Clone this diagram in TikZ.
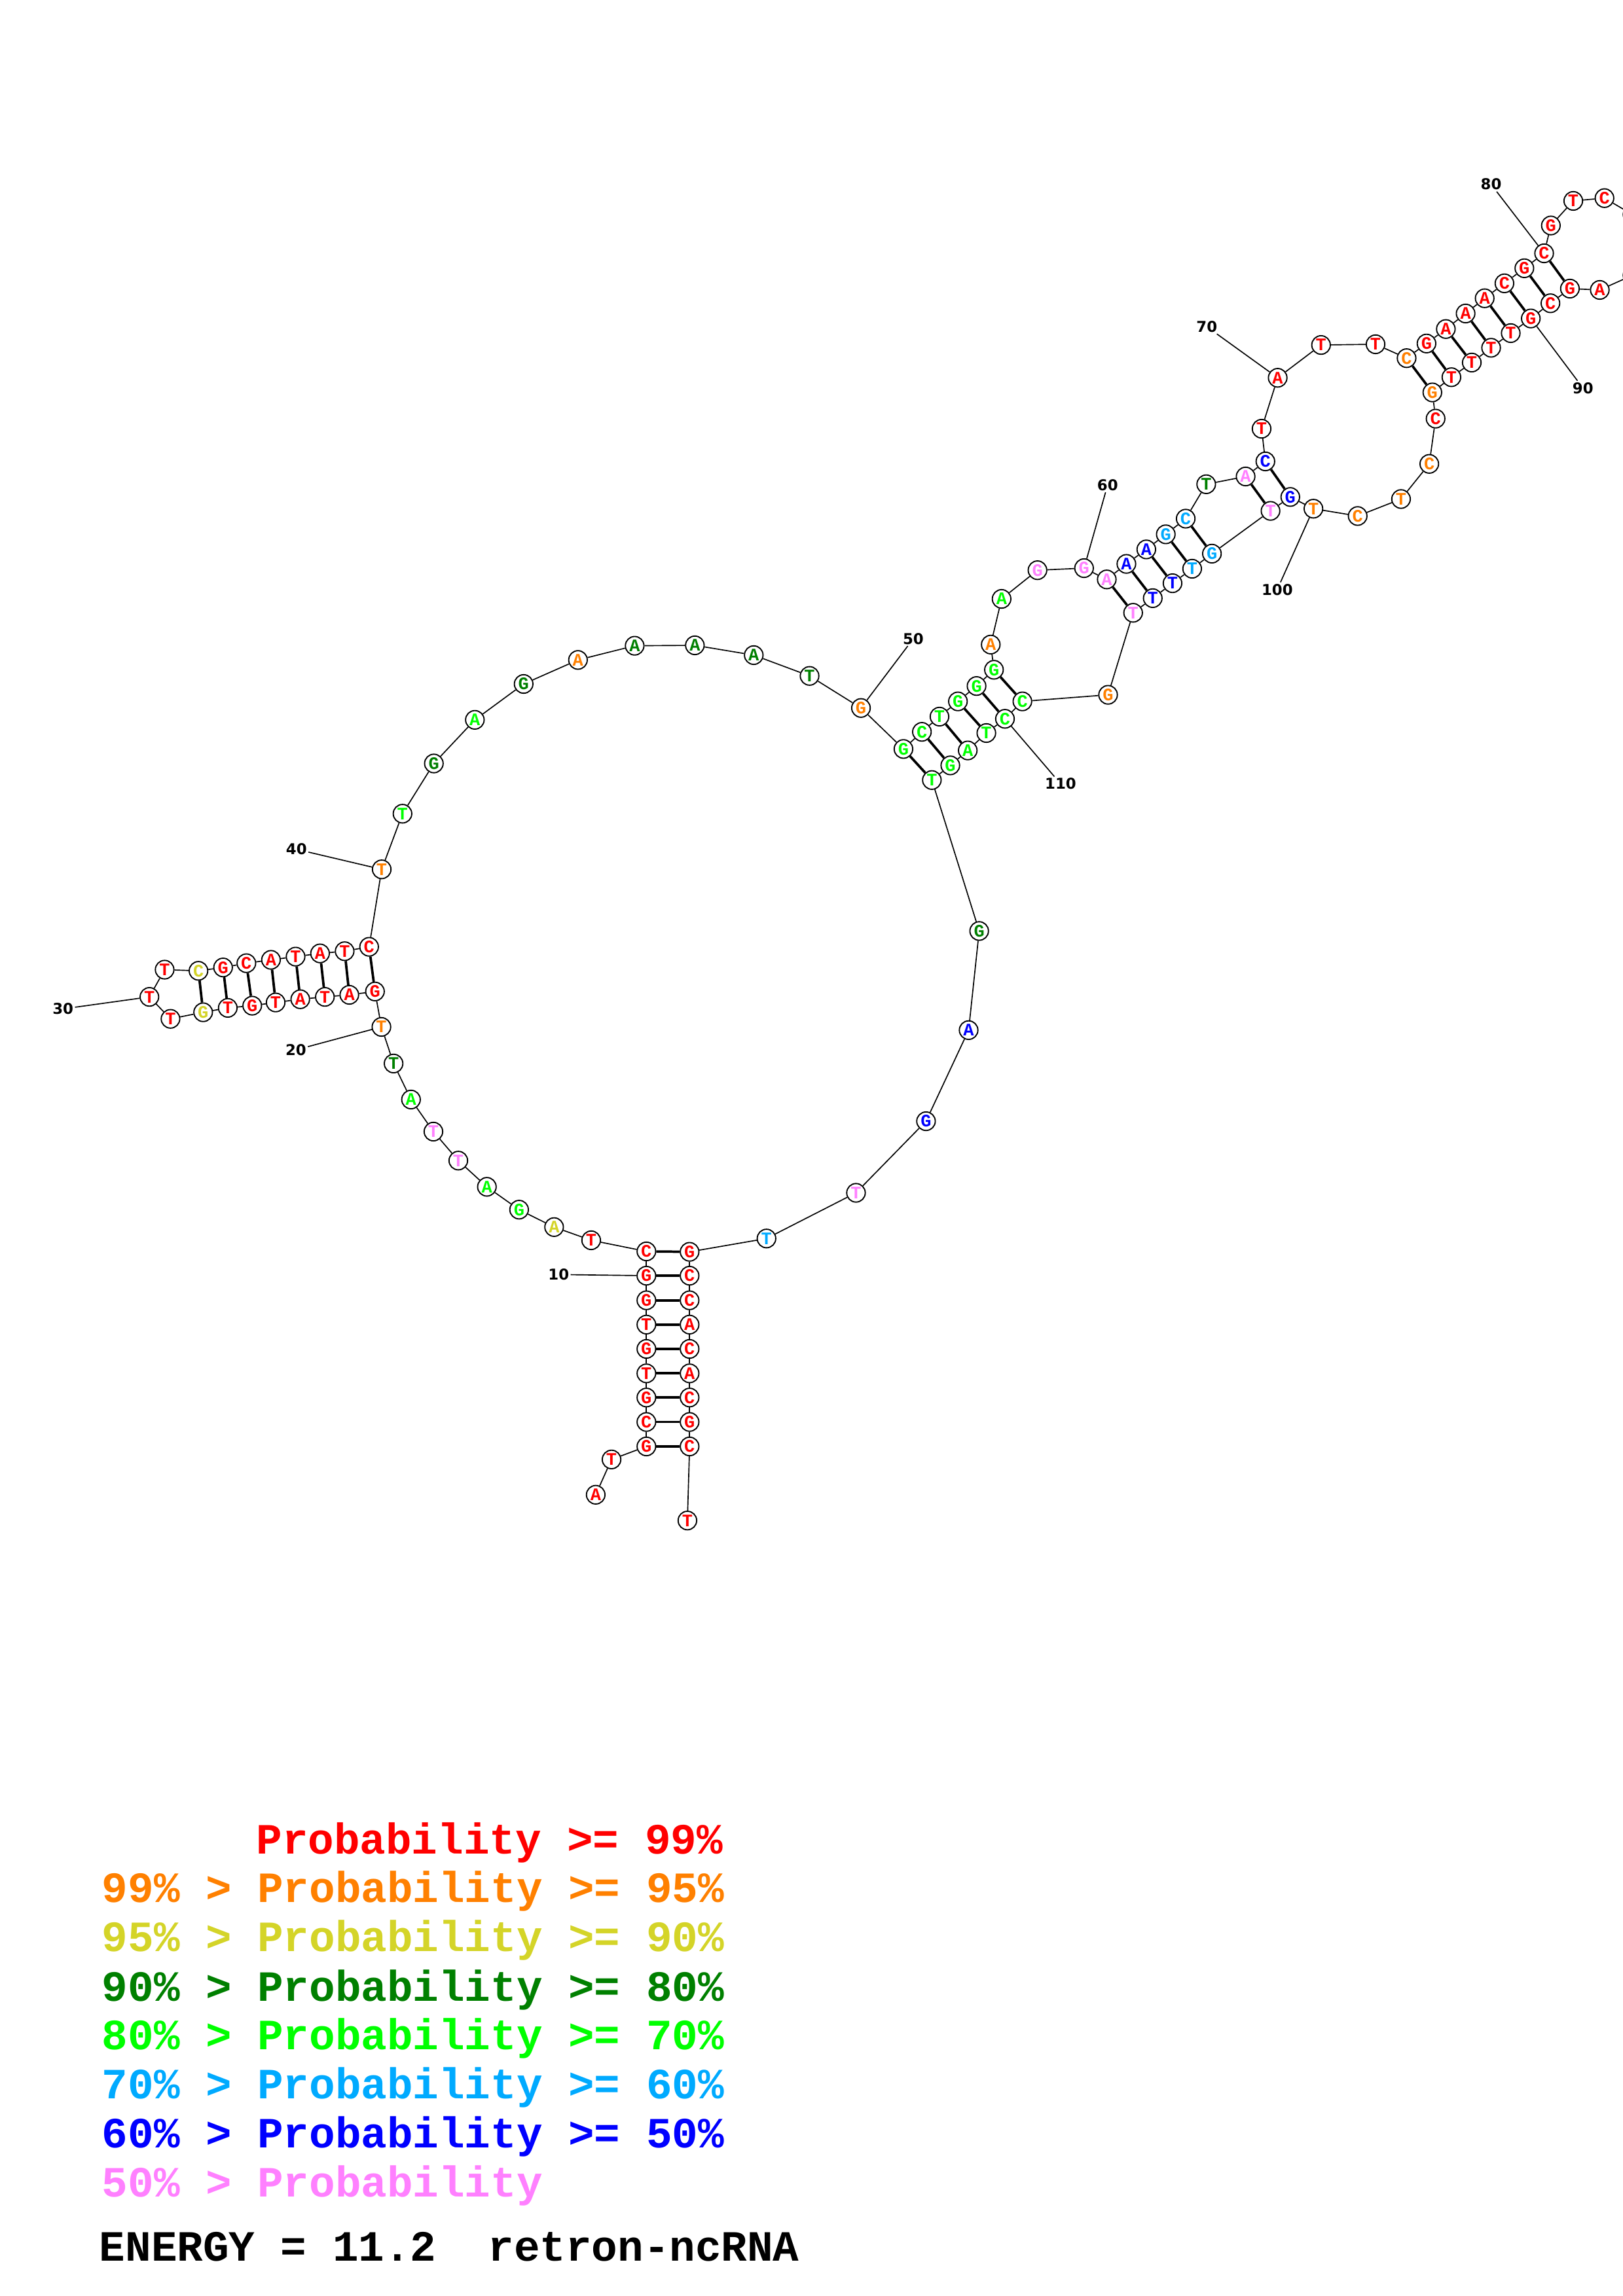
\documentclass[tikz,border=0pt]{standalone}
\usepackage{fontspec}
\newfontfamily\lmono{Liberation Mono}
\newfontfamily\dvs{DejaVu Sans}
\definecolor{cR}{RGB}{255,0,0}
\definecolor{cO}{RGB}{255,128,0}
\definecolor{cY}{RGB}{212,212,40}
\definecolor{cD}{RGB}{0,128,0}
\definecolor{cG}{RGB}{0,255,0}
\definecolor{cC}{RGB}{0,170,255}
\definecolor{cB}{RGB}{0,0,255}
\definecolor{cP}{RGB}{255,128,255}
\tikzset{
  nuc/.style={circle, draw=black, fill=white, minimum size=2.4mm, inner sep=0pt, line width=0.45pt, font=\lmono\bfseries\fontsize{6.5}{6.5}\selectfont},
  bb/.style={line width=0.4pt, black},
  bp/.style={line width=0.9pt, black},
  numlab/.style={inner sep=0.4pt, font=\dvs\bfseries\fontsize{5.5}{5.5}\selectfont},
  leg/.style={anchor=base west, inner sep=0pt, font=\lmono\bfseries\fontsize{15.9}{16}\selectfont}
}
\begin{document}
\begin{tikzpicture}[x=0.189531mm, y=-0.189531mm]
\useasboundingbox (0,0) rectangle (1108,1568);
\fill[white] (0,0) rectangle (1108,1568);
\clip (0,0) rectangle (1108,1568);
% nucleotides
\foreach \i/\l/\c/\x/\y in {
1/A/cR/406.7/1020.8, 2/T/cR/417.5/996.7, 3/G/cR/441.3/987.8, 4/C/cR/441.3/971.1,
5/G/cR/441.3/954.4, 6/T/cR/441.3/937.9, 7/G/cR/441.3/921.2, 8/T/cR/441.3/904.6,
9/G/cR/441.3/888.0, 10/G/cR/441.3/871.2, 11/C/cR/441.3/854.6, 12/T/cR/403.6/847.0,
13/A/cY/378.3/838.0, 14/G/cG/354.4/826.1, 15/A/cG/332.4/810.5, 16/T/cP/312.9/792.6,
17/T/cP/295.9/772.8, 18/A/cG/280.6/750.9, 19/T/cD/268.7/726.3, 20/T/cO/260.4/701.3,
21/G/cR/256.0/677.1, 22/A/cR/238.5/679.4, 23/T/cR/221.8/680.8, 24/A/cR/205.0/682.4,
25/T/cR/188.2/684.6, 26/G/cR/172.2/686.8, 27/T/cR/155.5/688.3, 28/G/cY/138.7/691.3,
29/T/cR/116.4/695.8, 30/T/cR/102.0/680.8, 31/T/cR/112.4/662.2, 32/C/cY/135.5/663.0,
33/G/cR/152.3/660.7, 34/C/cR/168.2/657.8, 35/A/cR/185.0/655.5, 36/T/cR/201.8/653.3,
37/A/cR/218.5/651.1, 38/T/cR/235.3/649.6, 39/C/cR/252.0/646.6, 40/T/cO/260.6/593.7,
41/T/cG/274.8/555.7, 42/G/cD/296.2/521.4, 43/A/cG/324.2/491.6, 44/G/cD/357.5/467.1,
45/A/cO/394.6/450.7, 46/A/cD/433.3/441.0, 47/A/cD/474.4/440.7, 48/A/cD/514.6/447.4,
49/T/cD/552.7/461.6, 50/G/cO/587.8/483.5, 51/G/cG/616.8/511.5, 52/C/cG/629.4/499.8,
53/T/cG/641.4/489.4, 54/G/cG/654.0/479.0, 55/G/cG/666.7/468.5, 56/G/cG/678.6/457.4,
57/A/cO/676.4/440.2, 58/A/cG/683.8/409.0, 59/G/cP/708.3/389.4, 60/G/cP/740.1/388.0,
61/A/cP/755.6/395.7, 62/A/cB/769.0/385.1, 63/A/cB/782.6/375.2, 64/G/cC/795.9/364.9,
65/C/cC/809.5/354.2, 66/T/cD/823.5/330.7, 67/A/cP/850.4/325.4, 68/C/cB/863.9/315.1,
69/T/cR/861.3/292.8, 70/A/cR/872.3/258.0, 71/T/cR/901.9/235.6, 72/T/cR/939.1/235.1,
73/C/cO/960.3/244.6, 74/G/cR/973.9/234.6, 75/A/cR/987.1/224.7, 76/A/cR/1000.6/214.1,
77/A/cR/1013.6/203.7, 78/C/cR/1027.1/193.5, 79/G/cR/1040.7/183.2, 80/C/cR/1054.2/173.0,
81/G/cR/1058.8/154.0, 82/T/cR/1074.1/137.2, 83/C/cR/1095.4/135.3,
84//cR/1114.5/146.5, 85//cR/1123/167, 86//cR/1114.5/188,
87/A/cR/1092.2/198.0, 88/G/cR/1071.8/197.1, 89/C/cR/1058.5/207.1, 90/G/cR/1045.1/217.5,
91/T/cR/1031.4/227.5, 92/T/cR/1018.0/237.5, 93/T/cR/1004.8/247.6, 94/T/cR/990.9/257.6,
95/G/cO/977.9/268.0, 96/C/cR/980.1/285.9, 97/C/cO/975.8/316.8, 98/T/cO/956.5/340.8,
99/C/cO/926.9/352.4, 100/T/cO/896.7/347.4, 101/G/cB/880.9/339.4, 102/T/cP/867.4/348.9,
103/G/cC/827.4/378.1, 104/T/cC/813.9/388.4, 105/T/cB/800.5/398.3, 106/T/cB/787.0/408.5,
107/T/cP/773.6/418.5, 108/G/cO/756.5/474.5, 109/C/cG/698.0/479.0, 110/C/cG/686.1/490.9,
111/T/cG/673.4/500.6, 112/A/cG/660.7/512.5, 113/G/cG/648.8/522.7, 114/T/cG/636.2/532.7,
115/G/cD/668.5/635.8, 116/A/cB/661.3/703.5, 117/G/cB/632.2/765.7, 118/T/cP/584.4/814.6,
119/T/cC/523.3/845.8, 120/G/cR/470.8/854.9, 121/C/cR/470.8/871.2, 122/C/cR/470.8/888.0,
123/A/cR/470.8/904.6, 124/C/cR/470.8/921.2, 125/A/cR/470.8/937.9, 126/C/cR/470.8/954.4,
127/G/cR/470.8/971.1, 128/C/cR/470.8/987.8, 129/T/cR/469.3/1038.4}
  \node[nuc, text=\c] (n\i) at (\x,\y) {\l};
% backbone
\foreach \i [evaluate=\i as \j using int(\i+1)] in {1,...,128}
  \draw[bb] (n\i) -- (n\j);
% base pairs
\foreach \a/\b in {3/128, 4/127, 5/126, 6/125, 7/124, 8/123, 9/122, 10/121, 11/120,
  21/39, 22/38, 23/37, 24/36, 25/35, 26/34, 27/33, 28/32,
  51/114, 52/113, 53/112, 54/111, 55/110, 56/109,
  61/107, 62/106, 63/105, 64/104, 65/103, 67/102, 68/101,
  73/95, 74/94, 75/93, 76/92, 77/91, 78/90, 79/89, 80/88}
  \draw[bp] (n\a) -- (n\b);
% position labels
\foreach \k/\x/\y in {10/381.4/870.4, 20/202.0/717.0, 30/43.0/689.0, 40/202.4/580.0,
  50/623.5/436.2, 60/756.2/331.2, 70/823.9/223.1, 80/1018.0/125.9, 90/1080.7/265.0,
  100/872.0/402.6, 110/724.1/535.3}
{
  \node[numlab] (lab\k) at (\x,\y) {\k};
  \draw[bb] (lab\k) -- (n\k);
}
% legend
\node[leg, text=cR] (l1) at (174.6,1266.0) {Probability >= 99\%};
\node[leg, text=cO] (l2) at (69.3,1299.3) {99\% > Probability >= 95\%};
\node[leg, text=cY] (l3) at (69.3,1332.8) {95\% > Probability >= 90\%};
\node[leg, text=cD] (l4) at (69.3,1366.4) {90\% > Probability >= 80\%};
\node[leg, text=cG] (l5) at (69.3,1399.7) {80\% > Probability >= 70\%};
\node[leg, text=cC] (l6) at (69.3,1433.0) {70\% > Probability >= 60\%};
\node[leg, text=cB] (l7) at (69.3,1466.6) {60\% > Probability >= 50\%};
\node[leg, text=cP] (l8) at (69.3,1500.1) {50\% > Probability};
\node[leg, text=black] (l9) at (67.5,1544.0) {ENERGY = 11.2\ \ retron-ncRNA};
\end{tikzpicture}
\end{document}
